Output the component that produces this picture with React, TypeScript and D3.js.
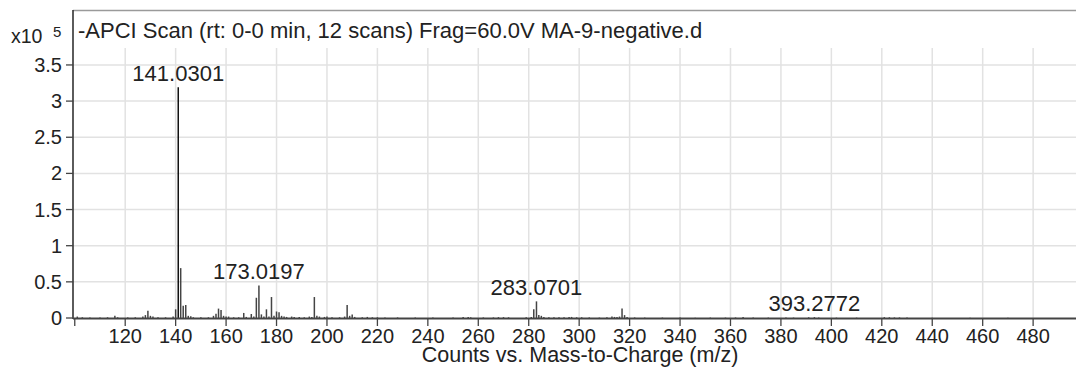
import React from "react";
import * as d3 from "d3";

// m/z values and intensities (x10^5 counts)
const mzValues: number[] = [
  101, 103, 106, 110, 113, 115.9, 117, 121, 124, 127, 128, 129, 130, 131, 133, 136, 139,
  140, 141.03, 142, 143, 144, 145, 146, 147, 150, 153, 155, 156, 157, 158, 159, 160, 161,
  163, 165, 167, 168, 170, 171, 172, 173.02, 174, 175, 176, 177, 178, 179, 180, 181, 182,
  183, 184, 186, 187, 189, 191, 193, 194, 195, 196, 197, 199, 200, 202, 205, 207, 208, 209,
  210, 211, 214, 216, 218, 220, 223, 228, 235, 242, 250, 254, 256, 257, 262, 266, 268, 270,
  272, 279, 281, 282, 283.07, 284, 285, 286, 288, 290, 292, 294, 296, 297, 299, 301, 304,
  308, 311, 313, 314, 315, 316, 317, 318, 319, 322, 326, 333, 340, 346, 352, 358, 362, 365,
  369, 375, 382, 385, 391, 393.28, 395, 402, 410, 421, 423, 425, 427, 430, 440, 455, 470,
];
const intensities: number[] = [
  0.02, 0.01, 0.008, 0.008, 0.01, 0.03, 0.01, 0.008, 0.01, 0.02, 0.04, 0.1, 0.03, 0.02, 0.01, 0.01, 0.02,
  0.12, 3.19, 0.69, 0.17, 0.18, 0.03, 0.025, 0.01, 0.01, 0.01, 0.03, 0.06, 0.13, 0.11, 0.03, 0.02, 0.02,
  0.01, 0.01, 0.07, 0.015, 0.055, 0.02, 0.28, 0.45, 0.05, 0.02, 0.12, 0.02, 0.29, 0.03, 0.09, 0.08, 0.03,
  0.02, 0.015, 0.02, 0.015, 0.015, 0.01, 0.02, 0.015, 0.29, 0.03, 0.02, 0.015, 0.02, 0.01, 0.01, 0.02, 0.18, 0.03,
  0.05, 0.015, 0.01, 0.015, 0.01, 0.01, 0.008, 0.008, 0.006, 0.006, 0.006, 0.015, 0.015, 0.01, 0.008, 0.008, 0.012, 0.012,
  0.01, 0.01, 0.015, 0.12, 0.23, 0.04, 0.03, 0.015, 0.01, 0.012, 0.01, 0.012, 0.015, 0.015, 0.01, 0.01, 0.008,
  0.006, 0.01, 0.02, 0.015, 0.015, 0.02, 0.13, 0.04, 0.015, 0.008, 0.006, 0.006, 0.006, 0.005, 0.006, 0.006, 0.008, 0.015,
  0.006, 0.006, 0.008, 0.006, 0.01, 0.012, 0.008, 0.005, 0.005, 0.012, 0.01, 0.008, 0.008, 0.006, 0.004, 0.004, 0.004,
];

const peakLabelMz: number[] = [141.0301, 173.0197, 283.0701, 393.2772];
const peakLabelTop: number[] = [3.19, 0.45, 0.23, 0.012];

const xTicks: number[] = [100, 120, 140, 160, 180, 200, 220, 240, 260, 280, 300, 320, 340, 360, 380, 400, 420, 440, 460, 480];
const yTicks: number[] = [0, 0.5, 1, 1.5, 2, 2.5, 3, 3.5];

const title = "-APCI Scan (rt: 0-0 min, 12 scans) Frag=60.0V MA-9-negative.d";
const xAxisTitle = "Counts vs. Mass-to-Charge (m/z)";

const W = 1076;
const H = 369;
const left = 73;
const right = 1076;
const top = 10;
const bottom = 318;
const gridTop = 48;
const FONT = "'Liberation Sans', Arial, Helvetica, sans-serif";

export default function App() {
  const x = d3.scaleLinear().domain([99.3, 497]).range([left, right]);
  const y = d3.scaleLinear().domain([0, 4.26]).range([bottom, top]);

  return (
    <svg
      width={W}
      height={H}
      style={{ position: "fixed", left: 0, top: 0, background: "#fff" }}
      fontFamily={FONT}
    >
      <rect x={0} y={0} width={W} height={H} fill="#fff" />
      {/* grid */}
      {xTicks.filter((t) => t > 100).map((t) => (
        <line key={"gx" + t} x1={x(t)} x2={x(t)} y1={gridTop} y2={bottom} stroke="#e2e2e2" strokeWidth={1.5} />
      ))}
      {yTicks.filter((t) => t > 0).map((t) => (
        <line key={"gy" + t} x1={left} x2={right} y1={y(t)} y2={y(t)} stroke="#e2e2e2" strokeWidth={1.5} />
      ))}
      {/* top frame */}
      <line x1={left} x2={right} y1={top + 0.5} y2={top + 0.5} stroke="#9a9a9a" strokeWidth={1.5} />
      {/* bars */}
      {mzValues.map((m, i) => (
        <line
          key={"b" + i}
          x1={x(m)}
          x2={x(m)}
          y1={y(0)}
          y2={y(intensities[i])}
          stroke={intensities[i] > 1 ? "#111" : "#444"}
          strokeWidth={1.5}
        />
      ))}
      {/* peak labels */}
      {peakLabelMz.map((m, i) => (
        <text key={"pl" + i} x={x(m)} y={y(peakLabelTop[i]) - 6} textAnchor="middle" fontSize={22} fill="#222">
          {m.toFixed(4)}
        </text>
      ))}
      {/* axes */}
      <line x1={left} x2={left} y1={top} y2={bottom + 1} stroke="#333" strokeWidth={1.6} />
      <line x1={left} x2={right} y1={bottom + 0.5} y2={bottom + 0.5} stroke="#444" strokeWidth={2} />
      {yTicks.map((t) => (
        <g key={"yt" + t}>
          <line x1={left - 7} x2={left} y1={y(t)} y2={y(t)} stroke="#444" strokeWidth={1.3} />
          <text x={left - 11} y={y(t)} dy="0.35em" textAnchor="end" fontSize={20} fill="#222">
            {String(t)}
          </text>
        </g>
      ))}
      {xTicks.map((t) => (
        <g key={"xt" + t}>
          <line x1={x(t)} x2={x(t)} y1={bottom + 1} y2={bottom + 8} stroke="#444" strokeWidth={1.3} />
          {t > 100 && (
            <text x={x(t)} y={343} textAnchor="middle" fontSize={20} fill="#222">
              {String(t)}
            </text>
          )}
        </g>
      ))}
      {/* title & labels */}
      <text x={11} y={43} fontSize={19.5} fill="#222">x10</text>
      <text x={53} y={37} fontSize={15} fill="#222">5</text>
      <text x={78} y={38} fontSize={22} fill="#222">{title}</text>
      <text x={580} y={362} textAnchor="middle" fontSize={21.5} fill="#222">{xAxisTitle}</text>
    </svg>
  );
}
